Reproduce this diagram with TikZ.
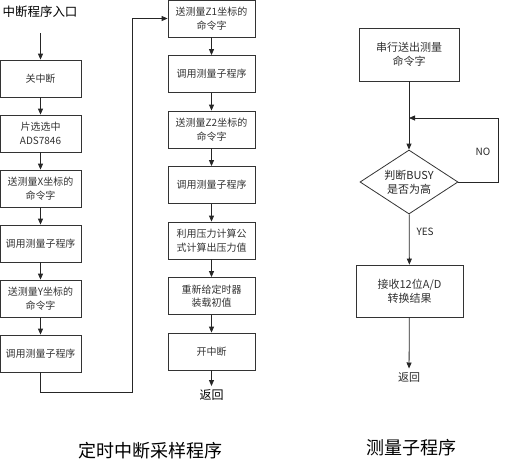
\documentclass[tikz,border=0pt]{standalone}
\usepackage{fontspec}
\setmainfont{Noto Sans CJK SC}
\usetikzlibrary{arrows.meta,shapes.geometric}
\begin{document}
\begin{tikzpicture}[x=1pt,y=-1pt,
  box/.style={draw=black!80,line width=0.8pt,align=center,inner sep=1pt,
    font=\fontsize{10}{13.5}\selectfont,text=black!80},
  lbox/.style={box,minimum width=81pt,minimum height=37pt},
  mbox/.style={box,minimum width=87pt,minimum height=37pt},
  flow/.style={line width=0.8pt,draw=black!85,-{Triangle[length=6pt,width=5pt]}},
  plain/.style={line width=0.8pt,draw=black!85},
  lbl/.style={font=\fontsize{10}{12}\selectfont,text=black!85}
]
\useasboundingbox (0,0) rectangle (512,464);
% left column
\node[font=\fontsize{12.5}{14}\selectfont] (entry) at (40,12) {中断程序入口};
\coordinate (entryend) at (40.5,33);
\node[lbox] (l1) at (40.5,78.5) {关中断};
\node[lbox] (l2) at (40.5,133.5) {片选选中\\ADS7846};
\node[lbox] (l3) at (40.5,188.5) {送测量X坐标的\\命令字};
\node[lbox] (l4) at (40.5,243.5) {调用测量子程序};
\node[lbox] (l5) at (40.5,298.5) {送测量Y坐标的\\命令字};
\node[lbox] (l6) at (40.5,353.5) {调用测量子程序};
\draw[flow] (entryend) -- (l1);
\draw[flow] (l1) -- (l2);
\draw[flow] (l2) -- (l3);
\draw[flow] (l3) -- (l4);
\draw[flow] (l4) -- (l5);
\draw[flow] (l5) -- (l6);
% middle column
\node[mbox] (m1) at (211.5,18.5) {送测量Z1坐标的\\命令字};
\node[mbox] (m2) at (211.5,74) {调用测量子程序};
\node[mbox] (m3) at (211.5,129.5) {送测量Z2坐标的\\命令字};
\node[mbox] (m4) at (211.5,185) {调用测量子程序};
\node[mbox] (m5) at (211.5,240.5) {利用压力计算公\\式计算出压力值};
\node[mbox] (m6) at (211.5,296) {重新给定时器\\装载初值};
\node[mbox] (m7) at (211.5,351.5) {开中断};
\node[font=\fontsize{12}{14}\selectfont] (mret) at (211.5,395) {返回};
\draw[flow] (l6.south) |- (132,392) |- (m1.west);
\draw[flow] (m1) -- (m2);
\draw[flow] (m2) -- (m3);
\draw[flow] (m3) -- (m4);
\draw[flow] (m4) -- (m5);
\draw[flow] (m5) -- (m6);
\draw[flow] (m6) -- (m7);
\draw[flow] (m7) -- (mret);
% right column
\node[box,font=\fontsize{11}{14}\selectfont,minimum width=100pt,minimum height=53pt] (r1) at (409,54.5) {串行送出测量\\命令字};
\node[diamond,draw=black!80,line width=0.8pt,aspect=1.53,minimum width=98pt,minimum height=64pt,inner sep=0pt,align=center,font=\fontsize{11}{14}\selectfont,text=black!85] (d) at (409,182) {判断BUSY\\是否为高};
\node[box,font=\fontsize{11}{14}\selectfont,minimum width=107pt,minimum height=52pt] (r2) at (409.5,291) {接收12位A/D\\转换结果};
\node[font=\fontsize{11}{13}\selectfont,text=black!85] (rret) at (409,377) {返回};
\coordinate (fb) at (409,118);
\draw[flow] (r1) -- (d);
\draw[flow] (d.east) -- (498,182) |- (fb);
\draw[flow] (d) -- (r2);
\draw[flow] (r2) -- (rret);
\node[lbl] (no) at (483,152) {NO};
\node[lbl,anchor=west] (yes) at (413,232) {YES};
% captions
\node[font=\fontsize{18}{20}\selectfont] (cap1) at (150,451) {定时中断采样程序};
\node[font=\fontsize{18}{20}\selectfont] (cap2) at (411,448) {测量子程序};
\end{tikzpicture}
\end{document}
